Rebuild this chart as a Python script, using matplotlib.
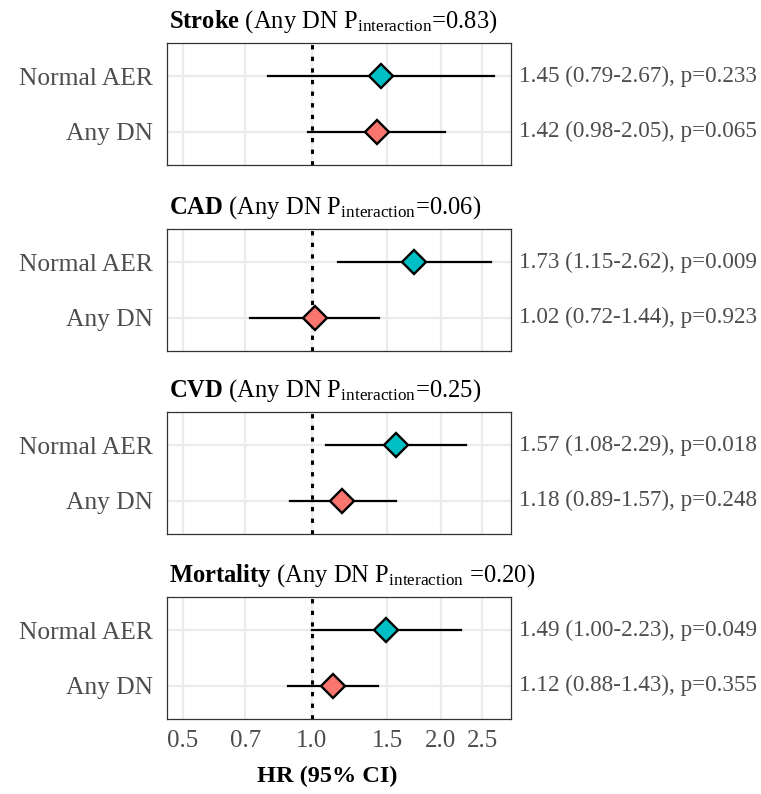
import matplotlib
matplotlib.use("Agg")
import matplotlib.pyplot as plt
from matplotlib.ticker import FixedLocator, NullLocator

plt.rcParams["font.family"] = ["Liberation Serif", "DejaVu Serif"]
plt.rcParams["mathtext.fontset"] = "custom"
plt.rcParams["mathtext.rm"] = "Liberation Serif"
plt.rcParams["mathtext.bf"] = "Liberation Serif:bold"
plt.rcParams["mathtext.it"] = "Liberation Serif:italic"

# data
outcomes = ["Stroke", "CAD", "CVD", "Mortality"]
p_interaction = ["0.83", "0.06", "0.25", "0.20"]
groups = ["Normal AER", "Any DN"]
hr = [[1.45, 1.42], [1.73, 1.02], [1.57, 1.18], [1.49, 1.12]]
lo = [[0.79, 0.98], [1.15, 0.72], [1.08, 0.89], [1.00, 0.88]]
hi = [[2.67, 2.05], [2.62, 1.44], [2.29, 1.57], [2.23, 1.43]]
pvals = [["0.233", "0.065"], ["0.009", "0.923"], ["0.018", "0.248"], ["0.049", "0.355"]]
xticks = [0.5, 0.7, 1.0, 1.5, 2.0, 2.5]

colors = ["#00BFC4", "#F8766D"]
gray_txt = "#4D4D4D"

W, H = 761, 794
fig = plt.figure(figsize=(W / 100, H / 100), dpi=100)

# panel boxes in pixels (top edge)
tops = [43, 229, 412, 597]
left, right, ph = 167, 511, 122

for i, name in enumerate(outcomes):
    ax = fig.add_axes([left / W, 1 - (tops[i] + ph) / H, (right - left) / W, ph / H])
    ax.set_xscale("log")
    ax.set_xlim(0.46, 2.92)
    ax.set_ylim(2.6, 0.4)

    ax.xaxis.set_major_locator(FixedLocator(xticks))
    ax.xaxis.set_minor_locator(NullLocator())
    ax.grid(True, color="#EBEBEB", linewidth=1.6, zorder=0)
    ax.set_axisbelow(True)

    ax.axvline(1.0, color="black", linewidth=2.2, linestyle=(0, (1.4, 2.4)), zorder=2)

    for j in range(2):
        y = j + 1
        ax.plot([lo[i][j], hi[i][j]], [y, y], color="black", linewidth=1.6, zorder=3)
        ax.plot(hr[i][j], y, marker="D", markersize=12, markerfacecolor=colors[j],
                markeredgecolor="black", markeredgewidth=1.7, linestyle="none", zorder=4)
        ax.text(1 + 8 / (right - left), y,
                f"{hr[i][j]:.2f} ({lo[i][j]:.2f}-{hi[i][j]:.2f}), p={pvals[i][j]}",
                transform=ax.get_yaxis_transform(), ha="left", va="center",
                fontsize=16.7, color=gray_txt)

    ax.set_yticks([1, 2])
    ax.set_yticklabels(groups, fontsize=18.4, color=gray_txt)
    ax.tick_params(axis="y", length=0, pad=10)
    if i == 3:
        ax.set_xticklabels([f"{t:.1f}" for t in xticks], fontsize=18, color=gray_txt)
        ax.tick_params(axis="x", length=0, pad=8)
    else:
        ax.tick_params(axis="x", length=0, labelbottom=False)

    for s in ax.spines.values():
        s.set_color("#333333")
        s.set_linewidth(0.9)

    sep = " " if name == "Mortality" else ""
    title = rf"$\mathbf{{{name}}}$ (Any DN P$_{{\mathrm{{interaction}}}}${sep}={p_interaction[i]})"
    ax.annotate(title, xy=(0, 1), xycoords="axes fraction", xytext=(2, 15),
                textcoords="offset pixels", ha="left", va="baseline", fontsize=17.7)

fig.text(327 / W, 1 - 782 / H, "HR (95% CI)", ha="center", va="baseline",
         fontsize=17.5, fontweight="bold")

fig.savefig("out.png", dpi=100)
